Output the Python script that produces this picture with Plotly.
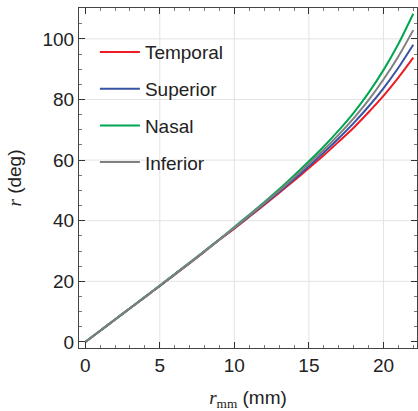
import plotly.graph_objects as go

# Eccentricity in millimetres along the retina
r_mm = list(range(0, 23))

# Visual angle (deg) for each meridian
temporal = [0.0, 3.7, 7.4, 11.1, 14.8, 18.5, 22.2, 26.0, 29.8, 33.7, 37.4, 41.3, 45.2,
            49.2, 53.2, 57.4, 61.6, 66.1, 70.7, 75.8, 81.2, 87.2, 93.8]
superior = [0.0, 3.7, 7.4, 11.1, 14.8, 18.5, 22.3, 26.0, 29.9, 33.8, 37.6, 41.5, 45.5,
            49.5, 53.7, 58.0, 62.5, 67.2, 72.2, 77.7, 83.7, 90.5, 98.1]
nasal = [0.0, 3.7, 7.4, 11.1, 14.9, 18.6, 22.4, 26.2, 30.0, 33.9, 37.9, 42.0, 46.1,
         50.4, 54.9, 59.6, 64.5, 69.8, 75.6, 82.2, 89.7, 98.3, 108.3]
inferior = [0.0, 3.7, 7.4, 11.1, 14.8, 18.6, 22.3, 26.1, 29.9, 33.8, 37.7, 41.7, 45.8,
            49.9, 54.3, 58.8, 63.4, 68.4, 73.8, 79.8, 86.6, 94.2, 102.9]

series = [
    ("Temporal", temporal, "#ED1C24"),
    ("Superior", superior, "#3953A4"),
    ("Nasal", nasal, "#00A651"),
    ("Inferior", inferior, "#808080"),
]

x_grid = [5, 10, 15, 20]
y_grid = [20, 40, 60, 80, 100]

FONT = "Liberation Sans, Arial, Helvetica, sans-serif"

fig = go.Figure()
for i, (name, vals, color) in enumerate(series):
    fig.add_trace(go.Scatter(
        x=r_mm, y=vals, name=name, mode="lines",
        line=dict(color=color, width=2, shape="spline", smoothing=0.6),
        legendgroup=f"g{i}",
    ))

grid_style = dict(color="#e3e3e3", width=1)
for gx in x_grid:
    fig.add_shape(type="line", xref="x", yref="paper", x0=gx, x1=gx, y0=0, y1=1,
                  line=grid_style, layer="below")
for gy in y_grid:
    fig.add_shape(type="line", xref="paper", yref="y", x0=0, x1=1, y0=gy, y1=gy,
                  line=grid_style, layer="below")

axis_common = dict(
    showgrid=False, zeroline=False, showline=True, linecolor="#444", linewidth=1.2,
    mirror="ticks", ticks="inside", ticklen=6, tickwidth=1.2, tickcolor="#333",
    tickfont=dict(family=FONT, size=19, color="#222"), automargin=False,
)

fig.update_xaxes(
    range=[-0.42, 22.25], tick0=0, dtick=5,
    minor=dict(dtick=1, ticks="inside", ticklen=3, tickcolor="#777", tickwidth=1),
    title=dict(text='<i><span style="font-family:Liberation Serif">r</span></i>'
                    '<sub><span style="font-family:Liberation Serif">mm</span></sub> (mm)',
               font=dict(family=FONT, size=19, color="#222"), standoff=24),
    **axis_common,
)
fig.update_yaxes(
    range=[-2.0, 110.2], tick0=0, dtick=20,
    minor=dict(dtick=5, ticks="inside", ticklen=3, tickcolor="#777", tickwidth=1),
    title=dict(text='<i><span style="font-family:Liberation Serif">r</span></i> (deg)',
               font=dict(family=FONT, size=19, color="#222"), standoff=15),
    **axis_common,
)

fig.update_layout(
    width=418, height=411,
    margin=dict(l=79, r=1, t=8, b=63),
    paper_bgcolor="white", plot_bgcolor="white",
    showlegend=True,
    legend=dict(x=0.047, y=0.926, xanchor="left", yanchor="top",
                font=dict(family=FONT, size=19, color="#222"),
                bgcolor="rgba(0,0,0,0)", tracegroupgap=9, itemwidth=40),
)

fig.write_html("out.html")
